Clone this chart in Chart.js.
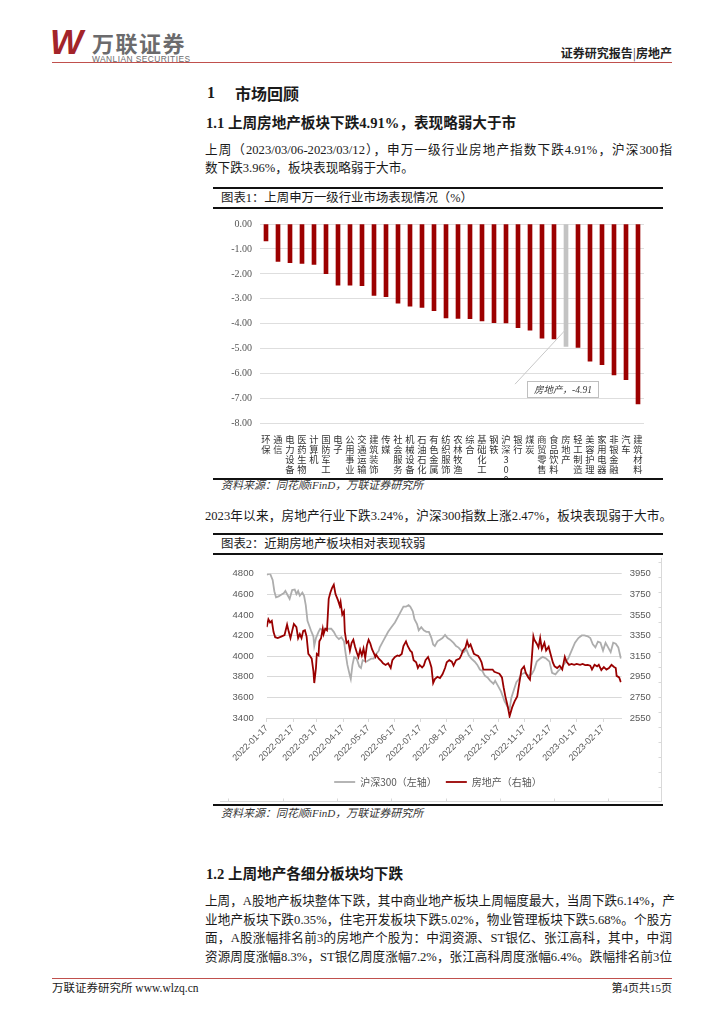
<!DOCTYPE html>
<html>
<head>
<meta charset="utf-8">
<script src="https://cdn.jsdelivr.net/npm/chart.js@4.4.0/dist/chart.umd.min.js"></script>
<style>
body{margin:0;background:#fff;}
#page{position:relative;width:724px;height:1024px;overflow:hidden;font-family:"Liberation Serif","Noto Sans CJK SC",serif;color:#1a1a1a;}
.t{position:absolute;white-space:nowrap;}
.jl{position:absolute;left:205px;width:467px;font-size:12.6px;line-height:18px;height:18px;white-space:nowrap;text-align:justify;text-align-last:justify;}
.ll{position:absolute;left:205px;font-size:12.6px;line-height:18px;height:18px;white-space:nowrap;}
.h{position:absolute;font-weight:bold;white-space:nowrap;line-height:20px;}
.rule{position:absolute;left:213px;width:450px;background:#111;}
.cap{position:absolute;left:221px;font-size:12.4px;line-height:16px;white-space:nowrap;}
.src{position:absolute;left:221px;font-size:11px;line-height:14px;font-style:italic;white-space:nowrap;color:#333;}
canvas{position:absolute;}
</style>
</head>
<body>
<div id="page">
  <!-- header -->
  <div class="t" style="left:50px;top:22px;font:italic bold 35px 'Liberation Sans';color:#a3242a;line-height:40px;">W</div>
  <div class="t" style="left:92px;top:29px;font:bold 22px 'Noto Sans CJK SC';color:#6b6b6d;line-height:26px;letter-spacing:1.5px;">万联证券</div>
  <div class="t" style="left:92px;top:55px;font:8.4px 'Liberation Sans';color:#6b6b6d;line-height:9px;letter-spacing:0.45px;">WANLIAN SECURITIES</div>
  <div class="t" style="right:52px;top:45px;font:bold 12px 'Noto Sans CJK SC';color:#222;line-height:16px;">证券研究报告<span style="font-weight:normal;color:#555;">|</span>房地产</div>
  <div style="position:absolute;left:52px;top:61.5px;width:620px;height:1.5px;background:#c0504d;"></div>

  <!-- section 1 -->
  <div class="h" style="left:207px;top:83px;font-size:16px;">1</div>
  <div class="h" style="left:235px;top:83px;font-size:16px;font-family:'Noto Sans CJK SC';">市场回顾</div>
  <div class="h" style="left:206px;top:112px;font-size:14.6px;">1.1 <span style="font-family:'Noto Sans CJK SC'">上周房地产板块下跌</span>4.91%<span style="font-family:'Noto Sans CJK SC'">，表现略弱大于市</span></div>
  <div class="jl" style="top:141px;">上周（2023/03/06-2023/03/12），申万一级行业房地产指数下跌4.91%，沪深300指</div>
  <div class="ll" style="top:159px;">数下跌3.96%，板块表现略弱于大市。</div>

  <!-- chart 1 box -->
  <div class="rule" style="top:187px;height:2px;"></div>
  <div class="cap" style="top:190px;">图表1：上周申万一级行业市场表现情况（%）</div>
  <div class="rule" style="top:207px;height:1.5px;"></div>
  <canvas id="c1" width="450" height="268" style="left:213px;top:210px;width:450px;height:268px;"></canvas>
  <div class="rule" style="top:478px;height:1.5px;"></div>
  <div class="src" style="top:478px;">资料来源：同花顺iFinD，万联证券研究所</div>

  <div class="jl" style="top:507px;">2023年以来，房地产行业下跌3.24%，沪深300指数上涨2.47%，板块表现弱于大市。</div>

  <!-- chart 2 box -->
  <div class="rule" style="top:533px;height:2px;"></div>
  <div class="cap" style="top:536px;">图表2：近期房地产板块相对表现较弱</div>
  <div class="rule" style="top:553px;height:1.5px;"></div>
  <canvas id="c2" width="450" height="247" style="left:213px;top:555px;width:450px;height:247px;"></canvas>
  <div class="rule" style="top:804px;height:2px;"></div>
  <div class="src" style="top:806px;">资料来源：同花顺iFinD，万联证券研究所</div>

  <!-- section 1.2 -->
  <div class="h" style="left:206px;top:863px;font-size:14.6px;">1.2 <span style="font-family:'Noto Sans CJK SC'">上周地产各细分板块均下跌</span></div>
  <div class="jl" style="top:892px;">上周，A股地产板块整体下跌，其中商业地产板块上周幅度最大，当周下跌6.14%，产</div>
  <div class="jl" style="top:910.5px;">业地产板块下跌0.35%，住宅开发板块下跌5.02%，物业管理板块下跌5.68%。个股方</div>
  <div class="jl" style="top:929px;">面，A股涨幅排名前3的房地产个股为：中润资源、ST银亿、张江高科，其中，中润</div>
  <div class="jl" style="top:948px;">资源周度涨幅8.3%，ST银亿周度涨幅7.2%，张江高科周度涨幅6.4%。跌幅排名前3位</div>

  <!-- footer -->
  <div style="position:absolute;left:52px;top:977.5px;width:620px;height:1.5px;background:#c0504d;"></div>
  <div class="t" style="left:52px;top:981px;font-size:11.5px;line-height:14px;">万联证券研究所 www.wlzq.cn</div>
  <div class="t" style="right:52px;top:981px;font-size:11px;line-height:14px;">第4页共15页</div>
</div>

<script>
// ---- chart 1 data: 申万一级行业上周涨跌幅 (%)
var industryNames = ['环保','通信','电力设备','医药生物','计算机','国防军工','电子','公用事业','交通运输','建筑装饰','传媒','社会服务','机械设备','石油石化','有色金属','纺织服饰','农林牧渔','综合','基础化工','钢铁','沪深300','银行','煤炭','商贸零售','食品饮料','房地产','轻工制造','美容护理','家用电器','非银金融','汽车','建筑材料'];
var weeklyChange = [-0.68,-1.50,-1.55,-1.58,-1.62,-1.99,-2.45,-2.45,-2.47,-2.86,-2.91,-3.17,-3.29,-3.34,-3.47,-3.76,-3.78,-3.79,-3.88,-3.95,-3.96,-4.16,-4.26,-4.58,-4.61,-4.91,-4.95,-5.50,-5.64,-6.05,-6.24,-7.21];
var highlightName = '房地产';

// ---- chart 2 data
var monthTicks = ['2022-01-17','2022-02-17','2022-03-17','2022-04-17','2022-05-17','2022-06-17','2022-07-17','2022-08-17','2022-09-17','2022-10-17','2022-11-17','2022-12-17','2023-01-17','2023-02-17'];
var hs300Dates = ['2022-01-17','2022-01-21','2022-01-24','2022-01-26','2022-01-28','2022-01-31','2022-02-03','2022-02-06','2022-02-08','2022-02-11','2022-02-13','2022-02-16','2022-02-19','2022-02-21','2022-02-23','2022-02-25','2022-02-28','2022-03-02','2022-03-04','2022-03-06','2022-03-08','2022-03-10','2022-03-13','2022-03-14','2022-03-16','2022-03-19','2022-03-21','2022-03-24','2022-03-27','2022-03-30','2022-04-03','2022-04-06','2022-04-09','2022-04-12','2022-04-15','2022-04-18','2022-04-20','2022-04-22','2022-04-25','2022-04-26','2022-04-28','2022-04-30','2022-05-03','2022-05-06','2022-05-08','2022-05-10','2022-05-14','2022-05-17','2022-05-20','2022-05-23','2022-05-26','2022-05-29','2022-05-30','2022-06-01','2022-06-04','2022-06-09','2022-06-13','2022-06-17','2022-06-21','2022-06-24','2022-06-27','2022-06-30','2022-07-03','2022-07-05','2022-07-08','2022-07-10','2022-07-13','2022-07-15','2022-07-18','2022-07-21','2022-07-24','2022-07-27','2022-07-30','2022-08-01','2022-08-03','2022-08-06','2022-08-09','2022-08-12','2022-08-15','2022-08-18','2022-08-21','2022-08-25','2022-08-28','2022-08-31','2022-09-03','2022-09-06','2022-09-09','2022-09-12','2022-09-15','2022-09-19','2022-09-22','2022-09-25','2022-09-28','2022-10-01','2022-10-04','2022-10-07','2022-10-11','2022-10-13','2022-10-16','2022-10-20','2022-10-24','2022-10-28','2022-10-30','2022-11-01','2022-11-04','2022-11-07','2022-11-10','2022-11-13','2022-11-17','2022-11-21','2022-11-25','2022-11-28','2022-12-01','2022-12-05','2022-12-08','2022-12-12','2022-12-16','2022-12-19','2022-12-23','2022-12-26','2022-12-30','2023-01-03','2023-01-07','2023-01-11','2023-01-15','2023-01-19','2023-01-23','2023-01-26','2023-01-30','2023-02-02','2023-02-05','2023-02-08','2023-02-11','2023-02-14','2023-02-17','2023-02-20','2023-02-23','2023-02-26','2023-03-01','2023-03-04','2023-03-07','2023-03-10'];
var hs300Values = [4790,4800,4740,4630,4570,4580,4595,4610,4632,4586,4556,4641,4647,4602,4632,4586,4617,4586,4495,4342,4297,4251,4190,4100,4175,4236,4266,4251,4266,4266,4266,4236,4190,4166,4184,4144,4022,3915,3809,3778,3915,3992,3976,3900,3885,3961,3946,3961,3976,3976,4022,4053,4083,4114,4160,4236,4282,4327,4388,4434,4480,4480,4495,4480,4434,4358,4312,4251,4282,4251,4236,4236,4175,4114,4098,4144,4160,4175,4205,4175,4160,4129,4098,4083,4053,4037,4068,4007,3976,3946,3915,3870,3855,3809,3794,3763,3732,3760,3717,3656,3564,3503,3487,3594,3671,3748,3778,3824,3839,3809,3824,3870,3947,3977,3993,3977,3947,3839,3824,3855,3885,3931,3977,4054,4130,4176,4201,4201,4192,4176,4115,4085,4140,4130,4054,4130,4085,4039,4130,4121,4085,3977];
var realEstateDates = ['2022-01-17','2022-01-19','2022-01-21','2022-01-23','2022-01-25','2022-01-27','2022-01-30','2022-02-03','2022-02-07','2022-02-10','2022-02-12','2022-02-14','2022-02-16','2022-02-18','2022-02-21','2022-02-23','2022-02-25','2022-02-27','2022-03-01','2022-03-03','2022-03-05','2022-03-07','2022-03-09','2022-03-11','2022-03-13','2022-03-14','2022-03-16','2022-03-17','2022-03-19','2022-03-20','2022-03-22','2022-03-24','2022-03-25','2022-03-27','2022-03-29','2022-03-31','2022-04-02','2022-04-04','2022-04-06','2022-04-08','2022-04-11','2022-04-13','2022-04-14','2022-04-16','2022-04-18','2022-04-19','2022-04-21','2022-04-23','2022-04-25','2022-04-27','2022-04-29','2022-05-01','2022-05-03','2022-05-05','2022-05-07','2022-05-09','2022-05-11','2022-05-13','2022-05-15','2022-05-17','2022-05-19','2022-05-21','2022-05-23','2022-05-25','2022-05-26','2022-05-29','2022-06-01','2022-06-03','2022-06-06','2022-06-09','2022-06-12','2022-06-14','2022-06-17','2022-06-20','2022-06-22','2022-06-25','2022-06-27','2022-06-30','2022-07-02','2022-07-05','2022-07-07','2022-07-09','2022-07-12','2022-07-14','2022-07-16','2022-07-19','2022-07-21','2022-07-23','2022-07-26','2022-07-28','2022-07-30','2022-08-01','2022-08-03','2022-08-06','2022-08-09','2022-08-12','2022-08-15','2022-08-17','2022-08-20','2022-08-23','2022-08-25','2022-08-28','2022-09-01','2022-09-03','2022-09-05','2022-09-08','2022-09-10','2022-09-12','2022-09-14','2022-09-16','2022-09-18','2022-09-20','2022-09-23','2022-09-25','2022-09-27','2022-09-29','2022-10-02','2022-10-05','2022-10-08','2022-10-10','2022-10-12','2022-10-15','2022-10-18','2022-10-21','2022-10-23','2022-10-25','2022-10-28','2022-10-30','2022-11-02','2022-11-05','2022-11-08','2022-11-10','2022-11-13','2022-11-16','2022-11-18','2022-11-21','2022-11-23','2022-11-25','2022-11-27','2022-11-28','2022-12-01','2022-12-03','2022-12-05','2022-12-07','2022-12-10','2022-12-12','2022-12-15','2022-12-17','2022-12-20','2022-12-22','2022-12-25','2022-12-28','2022-12-31','2023-01-03','2023-01-05','2023-01-08','2023-01-11','2023-01-14','2023-01-17','2023-01-21','2023-01-24','2023-01-27','2023-01-30','2023-02-02','2023-02-04','2023-02-07','2023-02-10','2023-02-12','2023-02-15','2023-02-18','2023-02-21','2023-02-24','2023-02-27','2023-03-02','2023-03-04','2023-03-05','2023-03-08','2023-03-10'];
var realEstateValues = [3432,3508,3477,3492,3386,3334,3325,3340,3355,3456,3386,3325,3395,3462,3432,3325,3364,3325,3395,3401,3340,3172,3151,3126,3004,2889,3035,3172,3157,3294,3325,3416,3364,3416,3401,3706,3767,3813,3843,3752,3691,3639,3676,3553,3584,3386,3279,3294,3203,3279,3309,3242,3188,3142,3212,3157,3224,3133,3255,3309,3273,3218,3181,3142,3163,3126,3102,3081,3065,3081,3035,3111,3142,3157,3151,3172,3249,3294,3249,3203,3188,3111,3090,3035,3065,3041,3059,3111,3142,3096,3041,2889,2928,2950,2937,2974,3035,3090,3111,3096,3059,3111,3126,3157,3203,3233,3294,3242,3264,3218,3172,3163,3151,3126,3090,3020,3020,3020,3020,3020,2998,2989,2980,2944,2846,2760,2654,2567,2653,2714,2760,2867,3020,3051,2990,2943,2922,3112,3342,3311,3271,3235,3326,3219,3280,3204,3241,3179,3087,3051,3035,3057,3020,3143,3097,3066,3075,3066,3075,3066,3075,3063,3066,3057,3020,3066,3051,3066,3014,3045,3020,3035,3066,3045,3035,2959,2944,2898];
var leftTicks = [3400, 4800, 200];
var rightTicks = [2550, 3950, 200];

function dayOffset(s){
    var t = Date.UTC(+s.slice(0,4), +s.slice(5,7)-1, +s.slice(8,10));
    return (t - Date.UTC(2022,0,17)) / 86400000;
}
function toPoints(dates, vals){
    return dates.map(function(d,i){ return {x: dayOffset(d), y: vals[i]}; });
}

// ---------------- chart 1
var calloutPlugin = {
    id: 'callout',
    afterDatasetsDraw: function(chart){
        var idx = industryNames.indexOf(highlightName);
        var bar = chart.getDatasetMeta(0).data[idx];
        var ys = chart.scales.y;
        var ctx = chart.ctx;
        ctx.save();
        ctx.strokeStyle = '#c8c8c8';
        ctx.lineWidth = 1;
        ctx.beginPath();
        ctx.moveTo(bar.x, ys.getPixelForValue(-4.22));
        ctx.lineTo(bar.x - 51, ys.getPixelForValue(-6.42));
        ctx.stroke();
        var bx = Math.round(bar.x - 39) + 0.5, by = Math.round(ys.getPixelForValue(-6.3)) + 0.5;
        ctx.fillStyle = '#fff';
        ctx.fillRect(bx, by, 71, 16);
        ctx.strokeStyle = '#bfbfbf';
        ctx.strokeRect(bx, by, 71, 16);
        ctx.fillStyle = '#404040';
        ctx.font = 'italic 9.5px "Liberation Serif","Noto Sans CJK SC"';
        ctx.textAlign = 'center';
        ctx.textBaseline = 'middle';
        ctx.fillText(highlightName + '，' + weeklyChange[idx].toFixed(2), bx + 35.5, by + 8.5);
        ctx.restore();
    }
};

new Chart(document.getElementById('c1').getContext('2d'), {
    type: 'bar',
    data: {
        labels: industryNames.map(function(n){ return Array.from(n); }),
        datasets: [{
            data: weeklyChange,
            backgroundColor: industryNames.map(function(n){ return n === highlightName ? '#c3c3c3' : '#9c0000'; }),
            barThickness: 4
        }]
    },
    options: {
        responsive: false,
        animation: false,
        layout: { padding: { top: 11.7, right: 19, left: 0, bottom: 0 } },
        plugins: { legend: { display: false }, tooltip: { enabled: false } },
        scales: {
            x: {
                grid: { display: false },
                border: { display: false },
                ticks: {
                    autoSkip: false, maxRotation: 0, minRotation: 0, padding: 3,
                    color: '#333',
                    font: { family: '"Noto Sans CJK SC"', size: 9.3, lineHeight: 1.06 }
                },
                afterFit: function(s){ s.height = 54.4; }
            },
            y: {
                min: -8, max: 0,
                ticks: {
                    stepSize: 1, padding: 8, color: '#555',
                    font: { family: '"Liberation Serif"', size: 10 },
                    callback: function(v){ return v.toFixed(2); }
                },
                grid: { color: '#dedede', lineWidth: 1, drawTicks: false },
                border: { display: false },
                afterFit: function(s){ s.width = 47; }
            }
        }
    },
    plugins: [calloutPlugin]
});

// ---------------- chart 2
var framePlugin = {
    id: 'frame',
    afterDraw: function(chart){
        var ctx = chart.ctx;
        ctx.save();
        ctx.strokeStyle = '#d9d9d9';
        ctx.lineWidth = 1;
        var rx = 448.5, by = 246.5;
        ctx.beginPath();
        ctx.moveTo(rx, 3); ctx.lineTo(rx, by);
        for (var k = 0; k <= 15; k++) {
            var ty = Math.round(6.7 + 15 * k) + 0.5;
            ctx.moveTo(rx, ty); ctx.lineTo(rx - 3, ty);
        }
        ctx.moveTo(7, by); ctx.lineTo(rx, by);
        for (var j = 0; j < 8; j++) {
            var tx = Math.round(15.3 + 54.3 * j) + 0.5;
            ctx.moveTo(tx, by); ctx.lineTo(tx, by - 3);
        }
        ctx.stroke();
        ctx.restore();
    }
};

var tickFont = { family: '"Liberation Sans"', size: 9.5 };
function plainNum(v){ return String(v); }
new Chart(document.getElementById('c2').getContext('2d'), {
    type: 'line',
    data: {
        datasets: [
            {
                label: '沪深300（左轴）',
                data: toPoints(hs300Dates, hs300Values),
                yAxisID: 'yL',
                borderColor: '#adadad',
                borderWidth: 1.8,
                pointRadius: 0,
                tension: 0,
                order: 2
            },
            {
                label: '房地产（右轴）',
                data: toPoints(realEstateDates, realEstateValues),
                yAxisID: 'yR',
                borderColor: '#990000',
                borderWidth: 1.8,
                pointRadius: 0,
                tension: 0,
                order: 1
            }
        ]
    },
    options: {
        responsive: false,
        animation: false,
        layout: { padding: { top: 10, right: 0, left: 0, bottom: 5 } },
        plugins: {
            tooltip: { enabled: false },
            legend: {
                position: 'bottom',
                labels: {
                    usePointStyle: true, pointStyle: 'line', pointStyleWidth: 21,
                    padding: 9, color: '#595959',
                    font: { family: '"Noto Sans CJK SC"', size: 10 },
                    sort: function(a, b){ return a.datasetIndex - b.datasetIndex; }
                }
            }
        },
        scales: {
            x: {
                type: 'linear',
                min: 0, max: 418,
                afterBuildTicks: function(s){
                    s.ticks = monthTicks.map(function(m){ return { value: dayOffset(m) }; });
                },
                ticks: {
                    autoSkip: false, minRotation: 45, maxRotation: 45, padding: 1,
                    color: '#595959', font: { family: '"Liberation Sans"', size: 9 },
                    callback: function(v, i){ return monthTicks[i]; }
                },
                grid: { drawOnChartArea: false, drawTicks: true, tickLength: 4, color: '#d9d9d9' },
                border: { color: '#d9d9d9' },
                afterFit: function(s){ s.height = 50; }
            },
            yL: {
                position: 'left',
                min: leftTicks[0], max: leftTicks[1],
                ticks: { stepSize: leftTicks[2], padding: 13, color: '#595959', font: tickFont, callback: plainNum },
                grid: { color: '#d9d9d9', drawTicks: false },
                border: { display: false },
                afterFit: function(s){ s.width = 53.7; }
            },
            yR: {
                position: 'right',
                min: rightTicks[0], max: rightTicks[1],
                ticks: { stepSize: rightTicks[2], padding: 8, color: '#595959', font: tickFont, callback: plainNum },
                grid: { drawOnChartArea: false, drawTicks: false },
                border: { display: false },
                afterFit: function(s){ s.width = 41.3; }
            }
        }
    },
    plugins: [framePlugin]
});
</script>
</body>
</html>
